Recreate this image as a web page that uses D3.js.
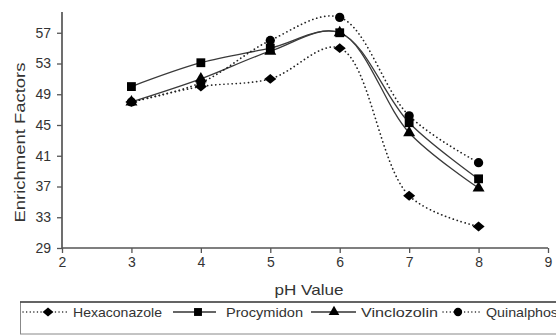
<!DOCTYPE html>
<html><head><meta charset="utf-8">
<script src="https://cdn.jsdelivr.net/npm/d3@7"></script>
<style>body{margin:0;background:#fff}svg{display:block}text{font-family:"Liberation Sans",Arial,sans-serif}</style>
</head><body>
<svg id="c" width="556" height="335"></svg>
<script>
const pH = [3,4,5,6,7,8];
const hexaconazole = [48,50,51,55,35.8,31.8];
const procymidon = [50,53.1,55,57,45.3,38];
const vinclozolin = [48,51,54.6,57,44,36.8];
const quinalphos = [48,50.5,56,59,46.2,40.1];
const xTicks = [2,3,4,5,6,7,8,9];
const yTicks = [29,33,37,41,45,49,53,57];
const seriesNames = ["Hexaconazole","Procymidon","Vinclozolin","Quinalphos"];

const diamond = {draw(ctx, size){ const r = Math.sqrt(size/2); ctx.moveTo(0,-r*0.9); ctx.lineTo(r*1.1,0); ctx.lineTo(0,r*0.9); ctx.lineTo(-r*1.1,0); ctx.closePath(); }};
const series = [
  {name:seriesNames[0], v:hexaconazole, sym:diamond, dotted:true, size:60},
  {name:seriesNames[1], v:procymidon, sym:d3.symbolSquare, dotted:false, size:78},
  {name:seriesNames[2], v:vinclozolin, sym:d3.symbolTriangle, dotted:false, size:62},
  {name:seriesNames[3], v:quinalphos, sym:d3.symbolCircle, dotted:true, size:68}
];

const svg = d3.select("#c");
const x = d3.scaleLinear().domain([2,9]).range([62,548]);
const y = d3.scaleLinear().domain([29,59.7]).range([248,12]);
const axisColor = "#555";

const line = d3.line().x((d,i)=>x(pH[i])).y(d=>y(d)).curve(d3.curveCatmullRom.alpha(0.5));
series.forEach(s=>{
  svg.append("path").attr("d", line(s.v)).attr("fill","none")
    .attr("stroke", s.dotted ? "#222" : "#3a3a3a")
    .attr("stroke-width", s.dotted ? 1.7 : 1.3)
    .attr("stroke-dasharray", s.dotted ? "0.1,4" : null)
    .attr("stroke-linecap", s.dotted ? "round" : "butt");
});
series.forEach(s=>{
  svg.append("g").selectAll("path").data(s.v).join("path")
    .attr("transform",(d,i)=>`translate(${x(pH[i])},${y(d)})`)
    .attr("d", d3.symbol().type(s.sym).size(s.size)).attr("fill","#000");
});

const xa = svg.append("g").attr("transform","translate(0,248)")
  .call(d3.axisBottom(x).tickValues(xTicks).tickSize(5).tickPadding(4).tickFormat(d3.format("d")));
const ya = svg.append("g").attr("transform","translate(62,0)")
  .call(d3.axisLeft(y).tickValues(yTicks).tickSize(5).tickPadding(6).tickFormat(d3.format("d")));
[xa,ya].forEach(a=>{
  a.select(".domain").attr("stroke",axisColor).attr("stroke-width",1.7);
  a.selectAll(".tick line").attr("stroke",axisColor).attr("stroke-width",1.3);
  a.selectAll("text").attr("fill","#333").style("font-size","14px").style("font-family","'Liberation Sans',Arial,sans-serif");
});
ya.select(".domain").attr("d","M0,248V12");
xa.select(".domain").attr("d","M62,0H548");

svg.append("text").attr("x",309).attr("y",295).attr("text-anchor","middle")
  .attr("textLength",69).attr("lengthAdjust","spacingAndGlyphs")
  .style("font-size","15px").attr("fill","#333").text("pH Value");
svg.append("text").attr("transform","translate(24.5,142.5) rotate(-90)").attr("text-anchor","middle")
  .attr("textLength",160).attr("lengthAdjust","spacingAndGlyphs")
  .style("font-size","15px").attr("fill","#333").text("Enrichment Factors");

const lg = svg.append("g");
lg.append("rect").attr("x",20.5).attr("y",302).attr("width",560).attr("height",32)
  .attr("fill","none").attr("stroke","#888").attr("stroke-width",1);
lg.append("line").attr("x1",20).attr("x2",556).attr("y1",302).attr("y2",302).attr("stroke","#444").attr("stroke-width",1.3);
const lx = [23,173,311,443];
const lsym = [48,198,334,458];
const lend = [68,216,356,482];
const ltxt = [73,226,361,486];
const lwid = [89,77,77,72];
series.forEach((s,i)=>{
  lg.append("line").attr("x1",lx[i]).attr("x2",lend[i]).attr("y1",312).attr("y2",312)
    .attr("stroke", s.dotted ? "#222" : "#333").attr("stroke-width", s.dotted?1.4:1.3)
    .attr("stroke-dasharray", s.dotted ? "0.1,3.5" : null).attr("stroke-linecap", s.dotted?"round":"butt");
  lg.append("path").attr("transform",`translate(${lsym[i]},312)`)
    .attr("d", d3.symbol().type(s.sym).size(s.size*0.8)).attr("fill","#000");
  lg.append("text").attr("x",ltxt[i]).attr("y",316.5)
    .attr("textLength",lwid[i]).attr("lengthAdjust","spacingAndGlyphs")
    .style("font-size","13px").attr("fill","#333").text(s.name);
});
</script>
</body></html>
